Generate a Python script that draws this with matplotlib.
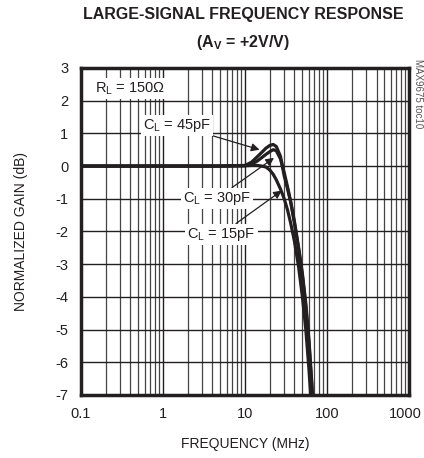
import matplotlib
matplotlib.use("Agg")
import matplotlib.pyplot as plt
from matplotlib.ticker import LogLocator, FixedLocator, NullFormatter
from matplotlib.transforms import ScaledTranslation

plt.rcParams['font.family'] = ['Liberation Sans', 'DejaVu Sans']
plt.rcParams['axes.unicode_minus'] = False
plt.rcParams['mathtext.fontset'] = 'custom'
plt.rcParams['mathtext.rm'] = 'Liberation Sans'
plt.rcParams['mathtext.bf'] = 'Liberation Sans:bold'

# data
freq_mhz = [0.1, 1, 5, 10, 12, 14, 16, 18, 20, 22, 24, 27, 30, 33, 36, 40, 45, 50, 55, 60, 65, 70]
gain_45pf = [0, 0, 0, 0.02, 0.12, 0.28, 0.42, 0.55, 0.63, 0.66, 0.6, 0.3, -0.3, -0.7, -1.1, -1.7, -2.5, -3.3, -4.2, -5.3, -6.6, -8.0]
gain_30pf = [0, 0, 0, 0.01, 0.06, 0.15, 0.26, 0.36, 0.44, 0.5, 0.47, 0.22, -0.2, -0.65, -1.1, -1.75, -2.55, -3.35, -4.3, -5.4, -6.7, -8.1]
gain_15pf = [0, 0, 0, 0.01, 0.02, 0.02, 0.0, -0.03, -0.12, -0.25, -0.42, -0.7, -1.0, -1.35, -1.75, -2.3, -3.1, -4.0, -5.0, -6.2, -7.5, -9.0]

x_ticks = [0.1, 1, 10, 100, 1000]
x_ticklabels = ['0.1', '1', '10', '100', '1000']
y_ticks = [3, 2, 1, 0, -1, -2, -3, -4, -5, -6, -7]

ink = '#231f20'

fig = plt.figure(figsize=(4.24, 4.58), dpi=100)
ax = fig.add_axes([0.191, 0.1376, 0.774, 0.714])

for g in (gain_15pf, gain_30pf, gain_45pf):
    ax.plot(freq_mhz, g, color=ink, lw=2.3, solid_capstyle='butt', zorder=3)

ax.set_xscale('log')
ax.set_xlim(0.1, 1000)
ax.set_ylim(-7, 3)
ax.xaxis.set_major_locator(FixedLocator(x_ticks))
ax.set_xticklabels(x_ticklabels)
ax.xaxis.set_minor_locator(LogLocator(base=10, subs=range(2, 10)))
ax.xaxis.set_minor_formatter(NullFormatter())
ax.set_yticks(y_ticks)

ax.grid(which='major', color=ink, lw=1.0)
ax.grid(which='minor', axis='x', color='#444444', lw=0.9)
ax.tick_params(which='both', length=0, labelsize=10.5, colors=ink, pad=9)
for s in ax.spines.values():
    s.set_linewidth(2.5)
    s.set_color(ink)

# keep "1000" inside the canvas
last = ax.get_xticklabels()[-1]
last.set_transform(last.get_transform() + ScaledTranslation(-3 / 72, 0, fig.dpi_scale_trans))

ax.set_xlabel('FREQUENCY (MHz)', fontsize=10, color=ink, labelpad=11)
ax.set_ylabel('NORMALIZED GAIN (dB)', fontsize=10, color=ink, labelpad=20)

fig.text(0.573, 0.969, 'LARGE-SIGNAL FREQUENCY RESPONSE', ha='center', va='center',
         fontsize=11.5, fontweight='bold', color=ink)
fig.text(0.573, 0.908, r'(A$_\mathbf{V}$ = +2V/V)', ha='center', va='center',
         fontsize=11.5, fontweight='bold', color=ink)
fig.text(0.986, 0.872, 'MAX9675 toc10', rotation=270, ha='center', va='top',
         fontsize=7, color='#555555')

box = dict(facecolor='white', edgecolor='none', pad=1.5)
ax.text(0.15, 2.38, r'R$_\mathregular{L}$ = 150Ω', fontsize=10.5, color=ink, va='center',
        bbox=box, zorder=4)
arrow = dict(arrowstyle='-|>', color=ink, lw=0.9, mutation_scale=12, shrinkA=0, shrinkB=0)
ax.annotate(r'C$_\mathregular{L}$ = 45pF', xy=(15, 0.5), xytext=(0.57, 1.25), va='center',
            fontsize=10.5, color=ink, bbox=box, arrowprops=arrow, zorder=4)
ax.annotate(r'C$_\mathregular{L}$ = 30pF', xy=(22.5, 0.25), xytext=(1.75, -0.98), va='center',
            fontsize=10.5, color=ink, bbox=box, arrowprops=arrow, zorder=4)
ax.annotate(r'C$_\mathregular{L}$ = 15pF', xy=(28, -0.75), xytext=(1.97, -2.08), va='center',
            fontsize=10.5, color=ink, bbox=box, arrowprops=arrow, zorder=4)

fig.savefig('out.png', dpi=100)
